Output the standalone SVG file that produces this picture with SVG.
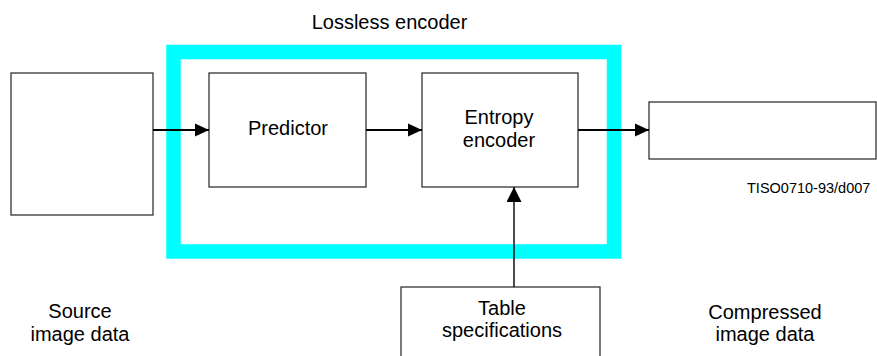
<svg xmlns="http://www.w3.org/2000/svg" width="877" height="356" viewBox="0 0 877 356">
<style>
.box{fill:#fff;stroke:#333;stroke-width:1.3}
.t{font-family:"Liberation Sans",Arial,sans-serif;font-size:20px;fill:#000;text-anchor:middle}
.small{font-family:"Liberation Sans",Arial,sans-serif;font-size:14.5px;fill:#000}
.conn{stroke:#000;fill:none}
</style>
<defs>
<marker id="ah" markerWidth="14" markerHeight="14" refX="14" refY="7" orient="auto" markerUnits="userSpaceOnUse">
<path d="M0,0.5 L14,7 L0,13.5 Z" fill="#000"/>
</marker>
<marker id="ahv" markerWidth="15" markerHeight="15" refX="15" refY="7.5" orient="auto" markerUnits="userSpaceOnUse">
<path d="M0,0 L15,7.5 L0,15 Z" fill="#000"/>
</marker>
</defs>
<g id="lossless-encoder">
<rect x="173.5" y="52" width="440.5" height="199.5" fill="none" stroke="#00FFFF" stroke-width="14.5"/>
<text class="t" x="389.5" y="29">Lossless encoder</text>
</g>
<g id="source">
<rect class="box" x="11" y="73" width="142" height="142"/>
<text class="t" x="80" y="318">Source</text>
<text class="t" x="80" y="341">image data</text>
</g>
<g id="predictor">
<rect class="box" x="209" y="73" width="157" height="114"/>
<text class="t" x="288" y="135">Predictor</text>
</g>
<g id="entropy-encoder">
<rect class="box" x="422" y="73" width="156" height="114"/>
<text class="t" x="499" y="124">Entropy</text>
<text class="t" x="499" y="147">encoder</text>
</g>
<g id="compressed">
<rect class="box" x="649" y="102" width="227" height="57"/>
<text class="t" x="765" y="319">Compressed</text>
<text class="t" x="765" y="341">image data</text>
</g>
<g id="table-specifications">
<rect class="box" x="401" y="287" width="199" height="80"/>
<text class="t" x="502" y="315">Table</text>
<text class="t" x="502" y="337">specifications</text>
</g>
<g id="label">
<text class="small" x="747" y="193">TISO0710-93/d007</text>
</g>
<g id="connectors">
<line class="conn" x1="153" y1="130" x2="209" y2="130" stroke-width="2" marker-end="url(#ah)"/>
<line class="conn" x1="366" y1="130" x2="422" y2="130" stroke-width="2" marker-end="url(#ah)"/>
<line class="conn" x1="578" y1="130" x2="649" y2="130" stroke-width="2" marker-end="url(#ah)"/>
<line class="conn" x1="514" y1="287" x2="514" y2="187" stroke-width="1.4" marker-end="url(#ahv)"/>
</g>
</svg>
